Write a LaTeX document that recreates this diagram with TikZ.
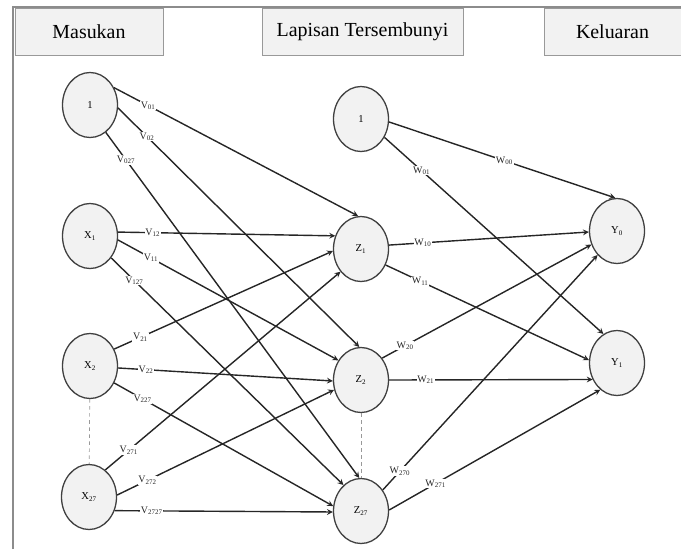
\documentclass[tikz,border=0pt]{standalone}
\usepackage{fontspec}
\setmainfont{Liberation Serif}
\usetikzlibrary{shapes.geometric}
\begin{document}
\begin{tikzpicture}[>=stealth, x=.03cm, y=-.03cm,
  neuron/.style={ellipse, draw=black!75, line width=1.1pt, fill=black!5,
    minimum width=1.65cm, minimum height=1.95cm, inner sep=0pt,
    font=\fontsize{9}{10}\selectfont},
  header/.style={draw=black!40, fill=black!5, minimum height=1.41cm,
    inner sep=0pt, font=\fontsize{17}{20}\selectfont},
  conn/.style={->, line width=1.2pt, black!85},
  wlab/.style={fill=white, inner sep=.6pt, font=\fontsize{8.5}{9}\selectfont},
  gap/.style={dashed, black!40, line width=.6pt}]
\useasboundingbox (0,0) rectangle (681,549);
% frame and headers
\draw[black!45, line width=1.2pt](13,549)--(13,7)--(681,7);
\node[header, minimum width=4.44cm] (masukan) at (89,31.5) {Masukan};
\node[header, minimum width=6.03cm] (lapisan) at (362.5,31.5) {Lapisan Tersembunyi};
\node[header, minimum width=4.11cm] (keluaran) at (612.5,31.5) {Keluaran};

% input layer
\node[neuron] (x0) at (90,105) {1};
\node[neuron] (x1) at (90,236) {X\textsubscript{1}};
\node[neuron] (x2) at (90,366) {X\textsubscript{2}};
\node[neuron] (x27) at (89,497) {X\textsubscript{27}};
% hidden layer
\node[neuron] (h0) at (361,119) {1};
\node[neuron] (z1) at (361,249) {Z\textsubscript{1}};
\node[neuron] (z2) at (361,380) {Z\textsubscript{2}};
\node[neuron] (z27) at (361,511) {Z\textsubscript{27}};
% output layer
\node[neuron] (y0) at (617,231) {Y\textsubscript{0}};
\node[neuron] (y1) at (617,363) {Y\textsubscript{1}};

\draw[gap](x2)--(x27);
\draw[gap](z2)--(z27);

% input -> hidden
\draw[conn](x0.36)--node[wlab, pos=.14]{V\textsubscript{01}}(z1.95);
\draw[conn](x0.-6)--node[wlab, pos=.12]{V\textsubscript{02}}(z2.93);
\draw[conn](x0.-60)--node[wlab, pos=.08]{V\textsubscript{027}}(z27.93);
\draw[conn](x1.8)--node[wlab, pos=.16]{V\textsubscript{12}}(z1.153);
\draw[conn](x1.-8)--node[wlab, pos=.15]{V\textsubscript{11}}(z2.139);
\draw[conn](x1.-46)--node[wlab, pos=.1]{V\textsubscript{127}}(z27.124);
\draw[conn](x2.35)--node[wlab, pos=.12]{V\textsubscript{21}}(z1.184);
\draw[conn](x2.-4)--node[wlab, pos=.13]{V\textsubscript{22}}(z2.182);
\draw[conn](x2.-35)--node[wlab, pos=.13]{V\textsubscript{227}}(z27.170);
\draw[conn](x27.59)--node[wlab, pos=.1]{V\textsubscript{271}}(z1.228);
\draw[conn](x27.4)--node[wlab, pos=.14]{V\textsubscript{272}}(z2.200);
\draw[conn](x27.-28)--node[wlab, pos=.17]{V\textsubscript{2727}}(z27.182);

% hidden -> output
\draw[conn](h0.-6)--node[wlab, pos=.51]{W\textsubscript{00}}(y0.93);
\draw[conn](h0.-38)--node[wlab, pos=.17]{W\textsubscript{01}}(y1.115);
\draw[conn](z1.8)--node[wlab, pos=.17]{W\textsubscript{10}}(y0.182);
\draw[conn](z1.-33)--node[wlab, pos=.17]{W\textsubscript{11}}(y1.174);
\draw[conn](z2.46)--node[wlab, pos=.11]{W\textsubscript{20}}(y0.208);
\draw[conn](z2.0)--node[wlab, pos=.18]{W\textsubscript{21}}(y1.214);
\draw[conn](z27.44)--node[wlab, pos=.08]{W\textsubscript{270}}(y0.231);
\draw[conn](z27.2)--node[wlab, pos=.22]{W\textsubscript{271}}(y1.238);

\end{tikzpicture}
\end{document}
